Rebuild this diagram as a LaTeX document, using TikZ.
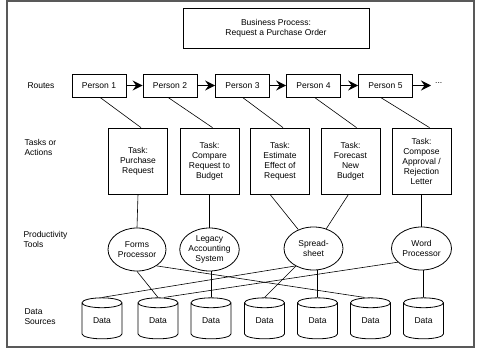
\documentclass[tikz,border=0pt]{standalone}
\usepackage{fontspec}
\setmainfont{Liberation Sans}
\usetikzlibrary{shapes.geometric,arrows.meta}
\begin{document}
\begin{tikzpicture}[x=1pt,y=-1pt,
  every node/.style={font=\fontsize{8.5}{10}\selectfont, align=center},
  box/.style={draw, line width=0.8pt, inner sep=0pt},
  person/.style={box, minimum width=54pt, minimum height=23pt},
  taskbox/.style={box, minimum width=59pt, minimum height=66pt},
  tool/.style={draw, line width=0.8pt, ellipse, minimum width=58pt, minimum height=43pt, inner sep=0pt},
  store/.style={draw, line width=0.8pt, cylinder, shape border rotate=90, aspect=0.55,
                minimum width=40pt, minimum height=41pt, inner sep=0pt},
  link/.style={line width=0.6pt},
  route/.style={line width=1.3pt, -{Stealth[length=10pt,width=10pt,inset=3.5pt]}},
  rowlabel/.style={anchor=west, align=left}
]
\useasboundingbox (0,0) rectangle (477,350);
% outer frame
\draw[line width=1.5pt, black!65] (7,1) rectangle (474,347);

% heading
\node[box, minimum width=186pt, minimum height=40pt] (title) at (276,28)
  {Business Process:\\Request a Purchase Order};

% row labels
\node[rowlabel] (lroutes) at (24,85.5) {Routes};
\node[rowlabel] (ltasks)  at (21,147.5) {Tasks or\\Actions};
\node[rowlabel] (ltools)  at (20,239) {Productivity\\Tools};
\node[rowlabel] (ldata)   at (21,316.5) {Data\\Sources};

% routes
\node[person] (p1) at (99,85.5)    {Person 1};
\node[person] (p2) at (170,85.5)   {Person 2};
\node[person] (p3) at (242.5,85.5) {Person 3};
\node[person] (p4) at (313.5,85.5) {Person 4};
\node[person] (p5) at (385.5,85.5) {Person 5};
\coordinate (more) at (431,85.5);
\node[anchor=base west, inner sep=0pt] (dots) at (435,84) {...};

\draw[route] (p1) -- (p2);
\draw[route] (p2) -- (p3);
\draw[route] (p3) -- (p4);
\draw[route] (p4) -- (p5);
\draw[route] (p5) -- (more);

% tasks
\node[taskbox] (t1) at (138,161) {Task:\\Purchase\\Request};
\node[taskbox] (t2) at (209.5,161) {Task:\\Compare\\Request to\\Budget};
\node[taskbox] (t3) at (280,161) {Task:\\Estimate\\Effect of\\Request};
\node[taskbox] (t4) at (350.5,161) {Task:\\Forecast\\New\\Budget};
\node[taskbox] (t5) at (421.5,161) {Task:\\Compose\\Approval /\\Rejection\\Letter};

\draw[link] ([xshift=1pt]p1.south) -- ([xshift=3pt]t1.north);
\draw[link] ([xshift=-2pt]p2.south) -- ([xshift=3pt]t2.north);
\draw[link] (p3.south) -- ([xshift=3pt]t3.north);
\draw[link] ([xshift=1pt]p4.south) -- ([xshift=6pt]t4.north);
\draw[link] ([xshift=-5pt]p5.south) -- ([xshift=8pt]t5.north);

% productivity tools
\node[tool] (forms)  at (137,249.5) {Forms\\Processor};
\node[tool] (legacy) at (209.5,249.5) {Legacy\\Accounting\\System};
\node[tool, minimum width=59pt] (ss) at (313.5,248.5) {Spread-\\sheet};
\node[tool, minimum width=60pt] (word) at (421.5,248.5) {Word\\Processor};

\draw[link] (t1.south) -- (forms.north);
\draw[link] (t2.south) -- (legacy.north);
\draw[link] ([xshift=-10pt]t3.south) -- (ss);
\draw[link] ([xshift=-2pt]t4.south) -- (ss);
\draw[link] (t5.south) -- (word.north);

% data sources
\node[store] (d1) at (102,321)   {Data};
\node[store] (d2) at (158,321)   {Data};
\node[store] (d3) at (211,321)   {Data};
\node[store] (d4) at (264.5,321) {Data};
\node[store] (d5) at (317.5,321) {Data};
\node[store] (d6) at (370.5,321) {Data};
\node[store] (d7) at (423.5,321) {Data};

\draw[link] (forms.south) -- (d2.north);
\draw[link] (forms.-40) -- ([xshift=-6pt]d6.north);
\draw[link] (d3.north) -- (d3.north |- legacy.south);
\draw[link] (ss.-136) -- (d1.north);
\draw[link] (ss) -- (d4.north);
\draw[link] (d5.north) -- (d5.north |- ss.south);
\draw[link] (word.-150) -- ([xshift=6pt]d2.north);
\draw[link] (d7.north) -- (d7.north |- word.south);
\end{tikzpicture}
\end{document}
